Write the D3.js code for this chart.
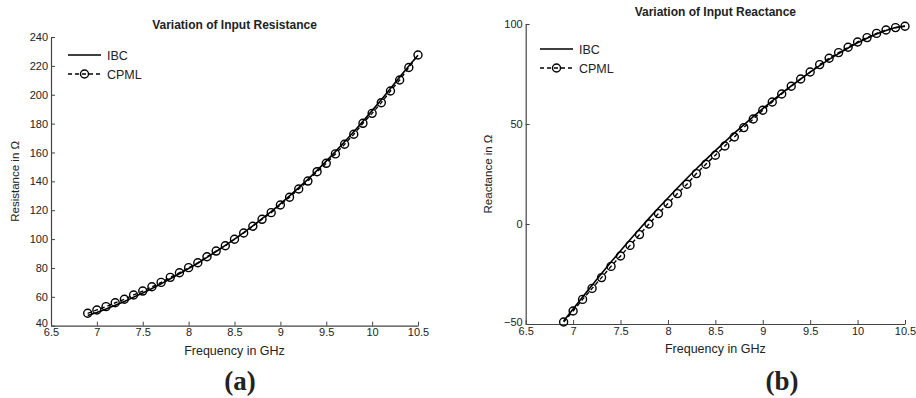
<!DOCTYPE html>
<html>
<head>
<meta charset="utf-8">
<script src="https://cdn.jsdelivr.net/npm/d3@7"></script>
<style>
  body { margin: 0; background: #fff; }
  text { font-family: "Liberation Sans", Arial, sans-serif; fill: #222; }
</style>
</head>
<body>
<div id="visualization"></div>
<script>
// frequencies (GHz)
var freq = [6.9,7.0,7.1,7.2,7.3,7.4,7.5,7.6,7.7,7.8,7.9,8.0,8.1,8.2,8.3,8.4,8.5,8.6,8.7,8.8,8.9,
            9.0,9.1,9.2,9.3,9.4,9.5,9.6,9.7,9.8,9.9,10.0,10.1,10.2,10.3,10.4,10.5];

// (a) input resistance
var resIBC = [47.0,49.2,51.6,54.2,56.8,59.8,62.7,65.8,69.0,72.5,76.0,79.6,83.3,87.3,91.4,95.6,100.0,104.5,109.2,114.1,119.1,
              124.4,129.9,135.6,141.4,147.6,154.0,160.6,167.4,174.4,181.6,189.0,196.6,204.4,212.2,219.9,227.4];
var resCPML = [48.6,50.9,53.2,55.9,58.3,61.3,64.0,67.0,70.0,73.5,76.7,80.2,83.6,87.8,91.7,95.4,99.9,104.2,108.9,113.7,118.3,
               123.6,129.0,134.7,140.2,146.7,152.5,159.0,165.7,172.6,180.2,187.1,194.5,202.6,210.2,218.9,227.5];

// (b) input reactance
var reaIBC = [-48.5,-42.5,-36.5,-30.6,-24.8,-19.0,-13.4,-7.9,-2.5,2.8,8.0,13.0,18.0,22.9,27.6,32.2,36.7,41.1,45.4,49.6,53.7,
              57.7,61.6,65.4,69.0,72.5,75.9,79.2,82.3,85.2,88.0,90.6,92.9,95.0,96.8,98.2,99.0];
var reaCPML = [-49.0,-43.5,-37.7,-32.2,-26.8,-21.2,-16.0,-10.7,-5.3,0.0,5.2,10.2,15.2,19.9,25.2,29.9,34.4,39.0,43.5,48.2,52.5,
               56.9,61.0,65.0,68.9,72.5,76.0,79.7,82.9,85.7,88.4,91.0,93.2,95.3,97.0,98.2,98.9];

var xTicks = [6.5,7,7.5,8,8.5,9,9.5,10,10.5];
var resTicks = [40,60,80,100,120,140,160,180,200,220,240];
var reaTicks = [-50,0,50,100];
var seriesNames = ['IBC','CPML'];

var svg = d3.select('#visualization')
  .append('svg')
  .attr('width', 916)
  .attr('height', 398);

function panel(opt){
  var x = d3.scaleLinear().domain([6.5,10.5]).range([opt.left, opt.right]);
  var y = d3.scaleLinear().domain(opt.ydom).range([opt.bottom, opt.top]);
  var g = svg.append('g');

  // axes, ticks inward
  var ax = g.append('g')
    .attr('transform','translate(0,'+opt.bottom+')')
    .call(d3.axisBottom(x).tickValues(xTicks).tickSizeInner(-4).tickSizeOuter(0).tickPadding(3)
      .tickFormat(d3.format('')));
  var ay = g.append('g')
    .attr('transform','translate('+opt.left+',0)')
    .call(d3.axisLeft(y).tickValues(opt.yticks).tickSizeInner(-4).tickSizeOuter(0).tickPadding(3));
  [ax,ay].forEach(function(a){
    a.select('.domain').attr('stroke','#444').attr('stroke-width',1.2);
    a.selectAll('line').attr('stroke','#444');
    a.selectAll('text').style('font-size','11px').attr('fill','#222');
  });
  // nudge the bottom y label up a little so it doesn't sit on the first x label
  ay.selectAll('.tick text').filter(function(d){ return d === opt.ydom[0]; }).attr('dy','0.1em');

  var line = d3.line()
    .x(function(d,i){ return x(freq[i]); })
    .y(function(d){ return y(d); });

  g.append('path').datum(opt.cpml)
    .attr('d', line).attr('fill','none').attr('stroke','#000')
    .attr('stroke-width',1.4).attr('stroke-dasharray','4,3');
  g.append('path').datum(opt.ibc)
    .attr('d', line).attr('fill','none').attr('stroke','#000').attr('stroke-width',1.6);
  g.selectAll('circle.m').data(opt.cpml).enter()
    .append('circle').attr('class','m')
    .attr('cx', function(d,i){ return x(freq[i]); })
    .attr('cy', function(d){ return y(d); })
    .attr('r', 4)
    .attr('fill','none').attr('stroke','#000').attr('stroke-width',1.4);

  // title + labels
  g.append('text').attr('x',(opt.left+opt.right)/2).attr('y',opt.titleY)
    .attr('text-anchor','middle').style('font-size','12px').style('font-weight','bold')
    .text(opt.title);
  g.append('text').attr('x',(opt.left+opt.right)/2).attr('y',opt.bottom+29)
    .attr('text-anchor','middle').style('font-size','12.5px')
    .text('Frequency in GHz');
  g.append('text')
    .attr('transform','translate('+opt.ylabX+','+((opt.top+opt.bottom)/2)+') rotate(-90)')
    .attr('text-anchor','middle').style('font-size','11.5px')
    .text(opt.ylabel);
  g.append('text').attr('x',opt.capX).attr('y',390)
    .attr('text-anchor','middle')
    .style('font-family','"Liberation Serif", "Times New Roman", serif')
    .style('font-size','27px').style('font-weight','bold').attr('fill','#000')
    .text(opt.caption);

  // legend
  var lg = g.append('g').attr('transform','translate('+opt.legX+','+opt.legY+')');
  lg.append('line').attr('x1',0).attr('x2',33).attr('y1',0).attr('y2',0)
    .attr('stroke','#000').attr('stroke-width',1.6);
  lg.append('line').attr('x1',0).attr('x2',33).attr('y1',19).attr('y2',19)
    .attr('stroke','#000').attr('stroke-width',1.4).attr('stroke-dasharray','4,3');
  lg.append('circle').attr('cx',16.5).attr('cy',19).attr('r',4)
    .attr('fill','none').attr('stroke','#000').attr('stroke-width',1.4);
  lg.selectAll('text.lg').data(seriesNames).enter()
    .append('text').attr('class','lg')
    .attr('x',39).attr('y',function(d,i){ return i*19+4.5; })
    .style('font-size','12.5px')
    .text(function(d){ return d; });
}

panel({left:51, right:418, top:37, bottom:325.7, ydom:[40,240], yticks:resTicks,
  ibc:resIBC, cpml:resCPML, title:'Variation of Input Resistance', titleY:29,
  ylabel:'Resistance in \u03A9', ylabX:19, caption:'(a)', capX:240, legX:68, legY:55});

panel({left:525.7, right:905, top:24, bottom:324, ydom:[-50,100], yticks:reaTicks,
  ibc:reaIBC, cpml:reaCPML, title:'Variation of Input Reactance', titleY:16,
  ylabel:'Reactance in \u03A9', ylabX:492, caption:'(b)', capX:782, legX:540, legY:49});
</script>
</body>
</html>
